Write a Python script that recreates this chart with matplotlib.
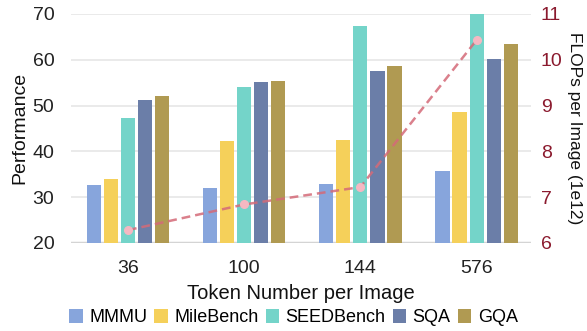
import matplotlib
matplotlib.use("Agg")
import matplotlib.pyplot as plt
import numpy as np

plt.rcParams['font.family'] = ['Liberation Sans', 'DejaVu Sans']

tokens = ["36", "100", "144", "576"]
series_names = ["MMMU", "MileBench", "SEEDBench", "SQA", "GQA"]
mmmu = [32.7, 32.0, 32.9, 35.7]
milebench = [34.0, 42.3, 42.5, 48.6]
seedbench = [47.3, 54.1, 67.4, 70.0]
sqa = [51.2, 55.2, 57.6, 60.2]
gqa = [52.1, 55.4, 58.6, 63.4]
flops = [6.28, 6.84, 7.22, 10.43]

colors = ["#87a5dc", "#f5d05a", "#74d4c9", "#6b7ea8", "#b09a52"]
values = [mmmu, milebench, seedbench, sqa, gqa]

fig = plt.figure(figsize=(5.87, 3.31), dpi=100)
ax = fig.add_axes([0.121, 0.266, 0.784, 0.692])
x = np.arange(len(tokens))
step = 0.147
width = 0.122
for i, (name, vals, c) in enumerate(zip(series_names, values, colors)):
    ax.bar(x + (i - 2) * step, np.array(vals) - 20, width=width, bottom=20,
           color=c, label=name, zorder=3)

ax.set_ylim(20, 70)
ax.set_xlim(-0.49, 3.47)
ax.set_yticks([20, 30, 40, 50, 60, 70])
ax.set_xticks(x)
ax.set_xticklabels(tokens)
ax.grid(axis='y', color='#e6e6e6', linewidth=1.2, zorder=0)
ax.axhline(20, color='#d4d4d4', linewidth=2.5, zorder=2)
for s in ax.spines.values():
    s.set_visible(False)
ax.tick_params(axis='both', length=0, labelsize=14, colors='#222222', pad=12)
ax.tick_params(axis='x', pad=12)
ax.set_ylabel("Performance", fontsize=14, color='#111111', labelpad=3)
ax.set_xlabel("Token Number per Image", fontsize=14.5, color='#111111', labelpad=5)

ax2 = ax.twinx()
ax2.plot(x, flops, color='#d46a78', linestyle='--', linewidth=1.8, alpha=0.85,
         dashes=(3.5, 2), zorder=5)
ax2.plot(x, flops, 'o', color='#f5b8c2', markersize=5.5, zorder=6)
ax2.set_ylim(6, 11)
ax2.set_yticks([6, 7, 8, 9, 10, 11])
for s in ax2.spines.values():
    s.set_visible(False)
ax2.tick_params(axis='y', length=0, labelsize=14, colors='#8b1a2e', pad=7)
ax2.set_ylabel("FLOPs per Image (1e12)", fontsize=12.5, rotation=270, labelpad=14,
               color='#111111')

handles, labels = ax.get_legend_handles_labels()
fig.legend(handles, labels, loc='lower center', ncol=5, bbox_to_anchor=(0.5, -0.035),
           frameon=False, fontsize=13, handlelength=0.75, handleheight=0.75,
           handletextpad=0.35, columnspacing=0.4)

fig.savefig("out.png", dpi=100)
